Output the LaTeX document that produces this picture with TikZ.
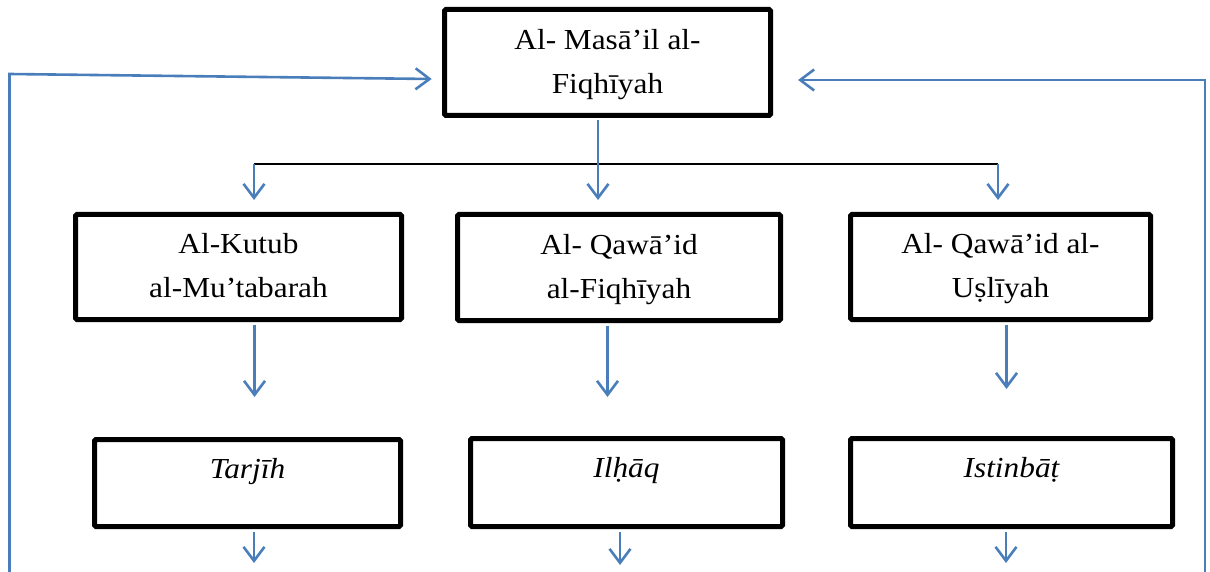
\documentclass[tikz,border=0pt]{standalone}
\usepackage{fontspec}
\setmainfont{Liberation Serif}[FakeStretch=1.08]
\usetikzlibrary{arrows.meta}
\definecolor{wblue}{RGB}{74,126,187}
\begin{document}
\begin{tikzpicture}[x=1pt,y=-1pt,
  box/.style={draw=black, line width=5pt, rounded corners=1.5pt, fill=white,
    inner sep=0pt, align=center, font=\fontsize{29}{44}\selectfont},
  bbox/.style={box, text height=19pt, text depth=29pt, font=\fontsize{29}{44}\selectfont\itshape},
  arr/.style={draw=wblue, line width=2.6pt, -{Straight Barb[length=14pt,width=21pt]}, shorten <=2.5pt},
  hline/.style={draw=black, line width=2.8pt}]
\useasboundingbox (0,0) rectangle (1210,572);

% boxes
\node[box, minimum width=326pt, minimum height=106pt] (top) at (607.5,62.5)
  {\strut Al- Masā’il al-\\\strut Fiqhīyah};
\node[box, minimum width=326pt, minimum height=105pt] (b1) at (238.5,267)
  {\strut Al-Kutub\\\strut al-Mu’tabarah};
\node[box, minimum width=323pt, minimum height=106pt] (b2) at (619,267.5)
  {\strut Al- Qawā’id\\\strut al-Fiqhīyah};
\node[box, minimum width=300pt, minimum height=105pt] (b3) at (1000.5,267)
  {\strut Al- Qawā’id al-\\\strut Uṣlīyah};
\node[bbox, minimum width=306pt, minimum height=87pt] (c1) at (247.5,483) {Tarjīh};
\node[bbox, minimum width=312pt, minimum height=88pt] (c2) at (626.5,482.5) {Ilḥāq};
\node[bbox, minimum width=322pt, minimum height=88pt] (c3) at (1011.5,482.5) {Istinbāṭ};

% top distribution
\coordinate (hl) at (254,164);
\coordinate (hr) at (998,164);
\coordinate (s0) at (598,200);
\coordinate (s1) at (254,200);
\coordinate (s3) at (998,200);
\draw[hline] (hl) -- (hr);
\draw[arr] (top.south -| s0) -- (s0);
\draw[arr, shorten <=0pt] (hl) -- (s1);
\draw[arr, shorten <=0pt] (hr) -- (s3);

% middle to bottom
\coordinate (m1) at (254.5,397);
\coordinate (m2) at (607.5,397);
\coordinate (m3) at (1006.5,389);
\draw[arr] (b1.south -| m1) -- (m1);
\draw[arr] (b2.south -| m2) -- (m2);
\draw[arr] (b3.south -| m3) -- (m3);

% bottom outgoing
\coordinate (e1) at (254,563);
\coordinate (e2) at (620,565);
\coordinate (e3) at (1006,563);
\draw[arr] (c1.south -| e1) -- (e1);
\draw[arr] (c2.south -| e2) -- (e2);
\draw[arr] (c3.south -| e3) -- (e3);

% feedback loops
\coordinate (lb) at (9.5,574);
\coordinate (lc) at (9.5,74);
\coordinate (lt) at (431.7,79);
\coordinate (rb) at (1205,574);
\coordinate (rc) at (1205,80);
\coordinate (rt) at (798,80);
\draw[arr, shorten <=0pt] (lb) -- (lc) -- (lt);
\draw[arr, shorten <=0pt] (rb) -- (rc) -- (rt);
\end{tikzpicture}
\end{document}
